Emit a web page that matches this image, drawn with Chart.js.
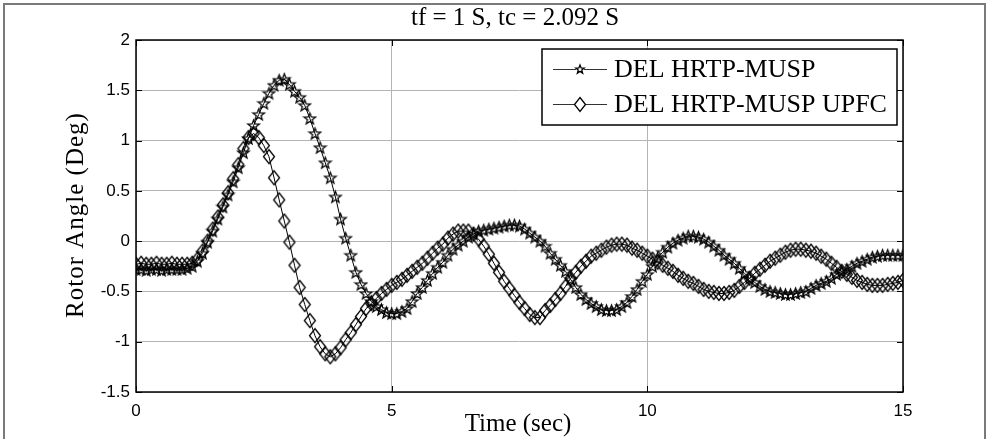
<!DOCTYPE html>
<html>
<head>
<meta charset="utf-8">
<script src="https://cdn.jsdelivr.net/npm/chart.js@4"></script>
<style>
  body { margin: 0; background: #fff; }
  #wrap { width: 989px; height: 439px; }
</style>
</head>
<body>
<div id="wrap"><canvas id="rotorChart" width="989" height="439"></canvas></div>
<script>
// time axis (sec)
const timeSec = [
  0.0, 0.1, 0.2, 0.3, 0.4, 0.5, 0.6, 0.7, 0.8, 0.9,
  1.0, 1.1, 1.2, 1.3, 1.4, 1.5, 1.6, 1.7, 1.8, 1.9,
  2.0, 2.1, 2.2, 2.3, 2.4, 2.5, 2.6, 2.7, 2.8, 2.9,
  3.0, 3.1, 3.2, 3.3, 3.4, 3.5, 3.6, 3.7, 3.8, 3.9,
  4.0, 4.1, 4.2, 4.3, 4.4, 4.5, 4.6, 4.7, 4.8, 4.9,
  5.0, 5.1, 5.2, 5.3, 5.4, 5.5, 5.6, 5.7, 5.8, 5.9,
  6.0, 6.1, 6.2, 6.3, 6.4, 6.5, 6.6, 6.7, 6.8, 6.9,
  7.0, 7.1, 7.2, 7.3, 7.4, 7.5, 7.6, 7.7, 7.8, 7.9,
  8.0, 8.1, 8.2, 8.3, 8.4, 8.5, 8.6, 8.7, 8.8, 8.9,
  9.0, 9.1, 9.2, 9.3, 9.4, 9.5, 9.6, 9.7, 9.8, 9.9,
  10.0, 10.1, 10.2, 10.3, 10.4, 10.5, 10.6, 10.7, 10.8, 10.9,
  11.0, 11.1, 11.2, 11.3, 11.4, 11.5, 11.6, 11.7, 11.8, 11.9,
  12.0, 12.1, 12.2, 12.3, 12.4, 12.5, 12.6, 12.7, 12.8, 12.9,
  13.0, 13.1, 13.2, 13.3, 13.4, 13.5, 13.6, 13.7, 13.8, 13.9,
  14.0, 14.1, 14.2, 14.3, 14.4, 14.5, 14.6, 14.7, 14.8, 14.9,
  15.0
];

// DEL HRTP-MUSP (stars)
const delHrtp = [
  -0.28, -0.28, -0.29, -0.28, -0.28, -0.29, -0.28, -0.28, -0.28, -0.28,
  -0.27, -0.25, -0.20, -0.12, -0.01, 0.10, 0.22, 0.34, 0.46, 0.59,
  0.73, 0.88, 1.02, 1.15, 1.26, 1.37, 1.47, 1.55, 1.60, 1.61,
  1.56, 1.49, 1.43, 1.35, 1.22, 1.07, 0.93, 0.78, 0.63, 0.44,
  0.22, 0.03, -0.14, -0.31, -0.43, -0.52, -0.60, -0.65, -0.68, -0.71,
  -0.72, -0.72, -0.70, -0.67, -0.60, -0.52, -0.46, -0.39, -0.32, -0.26,
  -0.21, -0.14, -0.08, -0.04, 0.00, 0.04, 0.07, 0.10, 0.11, 0.12,
  0.13, 0.14, 0.15, 0.16, 0.16, 0.15, 0.12, 0.08, 0.04, 0.00,
  -0.05, -0.12, -0.18, -0.24, -0.30, -0.38, -0.46, -0.53, -0.58, -0.62,
  -0.65, -0.68, -0.69, -0.69, -0.68, -0.65, -0.61, -0.55, -0.48, -0.40,
  -0.33, -0.25, -0.17, -0.11, -0.06, -0.02, 0.01, 0.03, 0.05, 0.05,
  0.04, 0.02, -0.01, -0.05, -0.09, -0.14, -0.18, -0.22, -0.27, -0.32,
  -0.37, -0.41, -0.45, -0.48, -0.50, -0.51, -0.52, -0.53, -0.53, -0.52,
  -0.51, -0.50, -0.47, -0.44, -0.42, -0.40, -0.37, -0.33, -0.30, -0.28,
  -0.25, -0.22, -0.20, -0.18, -0.16, -0.15, -0.14, -0.14, -0.14, -0.14,
  -0.14
];

// DEL HRTP-MUSP UPFC (diamonds)
const delHrtpUpfc = [
  -0.23, -0.22, -0.23, -0.23, -0.22, -0.23, -0.23, -0.22, -0.23, -0.23,
  -0.23, -0.22, -0.18, -0.10, 0.00, 0.12, 0.24, 0.36, 0.48, 0.62,
  0.76, 0.92, 1.03, 1.07, 1.03, 0.95, 0.84, 0.63, 0.41, 0.20,
  -0.01, -0.24, -0.46, -0.63, -0.79, -0.94, -1.05, -1.12, -1.15, -1.12,
  -1.06, -0.98, -0.91, -0.83, -0.75, -0.67, -0.62, -0.57, -0.52, -0.48,
  -0.44, -0.41, -0.38, -0.34, -0.30, -0.26, -0.22, -0.17, -0.12, -0.07,
  -0.03, 0.03, 0.07, 0.10, 0.10, 0.10, 0.07, 0.02, -0.05, -0.13,
  -0.22, -0.31, -0.40, -0.47, -0.54, -0.61, -0.67, -0.73, -0.76, -0.76,
  -0.69, -0.64, -0.58, -0.52, -0.45, -0.37, -0.31, -0.25, -0.20, -0.15,
  -0.12, -0.09, -0.06, -0.04, -0.03, -0.03, -0.04, -0.07, -0.09, -0.12,
  -0.15, -0.18, -0.21, -0.24, -0.27, -0.30, -0.34, -0.37, -0.40, -0.42,
  -0.45, -0.48, -0.50, -0.51, -0.52, -0.52, -0.51, -0.49, -0.45, -0.41,
  -0.37, -0.32, -0.28, -0.24, -0.20, -0.17, -0.14, -0.11, -0.09, -0.08,
  -0.08, -0.09, -0.10, -0.12, -0.15, -0.18, -0.22, -0.26, -0.30, -0.33,
  -0.36, -0.39, -0.41, -0.43, -0.44, -0.44, -0.44, -0.43, -0.42, -0.41,
  -0.39
];

const seriesNames = ['DEL HRTP-MUSP', 'DEL HRTP-MUSP UPFC'];
const xTicks = [0, 5, 10, 15];
const yTicks = [-1.5, -1, -0.5, 0, 0.5, 1, 1.5, 2];

// marker images (matlab style, hollow)
function makeStar(r) {
  const c = document.createElement('canvas');
  const s = Math.ceil(r * 2 + 3);
  c.width = s; c.height = s;
  const g = c.getContext('2d');
  g.translate(s / 2, s / 2 + 0.5);
  g.beginPath();
  for (let i = 0; i < 10; i++) {
    const rad = i % 2 === 0 ? r : r * 0.42;
    const a = -Math.PI / 2 + i * Math.PI / 5;
    const px = rad * Math.cos(a), py = rad * Math.sin(a);
    if (i === 0) g.moveTo(px, py); else g.lineTo(px, py);
  }
  g.closePath();
  g.strokeStyle = '#000';
  g.lineWidth = 1.3;
  g.stroke();
  return c;
}

function makeDiamond(w, h) {
  const c = document.createElement('canvas');
  c.width = w + 3; c.height = h + 3;
  const g = c.getContext('2d');
  const cx = c.width / 2, cy = c.height / 2;
  g.beginPath();
  g.moveTo(cx, cy - h / 2);
  g.lineTo(cx + w / 2, cy);
  g.lineTo(cx, cy + h / 2);
  g.lineTo(cx - w / 2, cy);
  g.closePath();
  g.strokeStyle = '#000';
  g.lineWidth = 1.3;
  g.stroke();
  return c;
}

const starImg = makeStar(6);
const diamondImg = makeDiamond(11, 14);
const legendStar = makeStar(4.5);

// frame, box, inward ticks, titles and legend
const matlabLook = {
  id: 'matlabLook',
  beforeDraw(chart) {
    const c = chart.ctx;
    c.save();
    c.fillStyle = '#fff';
    c.fillRect(0, 0, chart.width, chart.height);
    c.restore();
  },
  afterDraw(chart) {
    const c = chart.ctx;
    const a = chart.chartArea;
    const xs = chart.scales.x, ys = chart.scales.y;
    c.save();

    // outer figure frame
    c.strokeStyle = '#7a7a7a';
    c.lineWidth = 2;
    c.beginPath();
    c.moveTo(4, 440); c.lineTo(4, 4); c.lineTo(985, 4); c.lineTo(985, 440);
    c.stroke();

    // axes box
    c.strokeStyle = '#000';
    c.lineWidth = 1.5;
    c.strokeRect(a.left, a.top, a.right - a.left, a.bottom - a.top);

    // inward ticks
    c.lineWidth = 1;
    const tl = 6;
    c.beginPath();
    xTicks.forEach(v => {
      const px = Math.round(xs.getPixelForValue(v)) + 0.5;
      c.moveTo(px, a.bottom); c.lineTo(px, a.bottom - tl);
      c.moveTo(px, a.top); c.lineTo(px, a.top + tl);
    });
    yTicks.forEach(v => {
      const py = Math.round(ys.getPixelForValue(v)) + 0.5;
      c.moveTo(a.left, py); c.lineTo(a.left + tl, py);
      c.moveTo(a.right, py); c.lineTo(a.right - tl, py);
    });
    c.stroke();

    // titles
    c.fillStyle = '#000';
    c.textAlign = 'center';
    c.textBaseline = 'middle';
    c.font = '25px "Liberation Serif", "Times New Roman", serif';
    c.fillText('tf = 1 S, tc = 2.092 S', 515, 18);
    c.fillText('Time (sec)', 518, 424);
    c.save();
    c.translate(76, 215);
    c.rotate(-Math.PI / 2);
    c.letterSpacing = '1px';
    c.font = '25px "Liberation Serif", "Times New Roman", serif';
    c.fillText('Rotor Angle (Deg)', 0, 0);
    c.restore();

    // legend
    const lx = 542, ly = 49, lw = 355, lh = 76;
    c.fillStyle = '#fff';
    c.fillRect(lx, ly, lw, lh);
    c.strokeStyle = '#000';
    c.lineWidth = 1.5;
    c.strokeRect(lx, ly, lw, lh);
    const rows = [69, 104];
    const imgs = [legendStar, diamondImg];
    c.lineWidth = 1;
    c.font = '26px "Liberation Serif", "Times New Roman", serif';
    c.textAlign = 'left';
    rows.forEach((ry, i) => {
      c.strokeStyle = '#333';
      c.beginPath();
      c.moveTo(553, ry + 0.5); c.lineTo(607, ry + 0.5);
      c.stroke();
      const img = imgs[i];
      c.fillStyle = '#fff';
      c.fillRect(580 - img.width / 2 + 2, ry - img.height / 2 + 2, img.width - 4, img.height - 4);
      c.drawImage(img, Math.round(580 - img.width / 2), Math.round(ry - img.height / 2));
      c.fillStyle = '#000';
      c.fillText(seriesNames[i], 614, ry + 1);
    });

    c.restore();
  }
};

const toPoints = vals => timeSec.map((t, i) => ({ x: t, y: vals[i] }));

const ctx = document.getElementById('rotorChart').getContext('2d');
const rotorChart = new Chart(ctx, {
  type: 'line',
  data: {
    datasets: [{
      label: seriesNames[0],
      data: toPoints(delHrtp),
      borderColor: '#000',
      borderWidth: 1,
      pointStyle: starImg,
      pointRadius: 5,
      fill: false,
      tension: 0
    }, {
      label: seriesNames[1],
      data: toPoints(delHrtpUpfc),
      borderColor: '#000',
      borderWidth: 1,
      pointStyle: diamondImg,
      pointRadius: 5,
      fill: false,
      tension: 0
    }]
  },
  plugins: [matlabLook],
  options: {
    responsive: false,
    animation: false,
    devicePixelRatio: 1,
    layout: { padding: { left: 0, top: 40, right: 86, bottom: 0 } },
    plugins: {
      legend: { display: false },
      title: { display: false },
      tooltip: { enabled: false }
    },
    scales: {
      x: {
        type: 'linear',
        min: 0,
        max: 15,
        afterFit(scale) { scale.height = 47; },
        afterBuildTicks(scale) { scale.ticks = xTicks.map(v => ({ value: v })); },
        grid: { color: '#b4b4b4', lineWidth: 1, drawTicks: false },
        border: { display: false },
        ticks: {
          padding: 9,
          color: '#000',
          font: { family: '"Liberation Sans", Arial, sans-serif', size: 17 },
          callback: v => String(v)
        }
      },
      y: {
        min: -1.5,
        max: 2,
        afterFit(scale) { scale.width = 136; },
        afterBuildTicks(scale) { scale.ticks = yTicks.map(v => ({ value: v })); },
        grid: { color: '#b4b4b4', lineWidth: 1, drawTicks: false },
        border: { display: false },
        ticks: {
          padding: 6,
          color: '#000',
          font: { family: '"Liberation Sans", Arial, sans-serif', size: 17 },
          callback: v => String(v)
        }
      }
    }
  }
});
</script>
</body>
</html>
